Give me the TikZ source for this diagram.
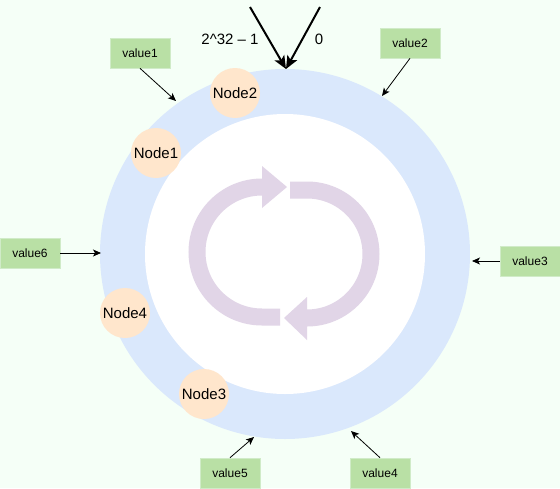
\documentclass[tikz,border=0pt]{standalone}
\usepackage{fontspec}
\setmainfont{Liberation Sans}
\usetikzlibrary{arrows.meta}
\definecolor{bgc}{HTML}{F5FFF7}
\definecolor{ringc}{HTML}{DAE8FC}
\definecolor{nodec}{HTML}{FFE6CC}
\definecolor{valc}{HTML}{B9E0A5}
\definecolor{valb}{HTML}{D0EBC8}
\definecolor{purc}{HTML}{E1D5E7}
\tikzset{
  ringnode/.style={circle, fill=nodec, minimum size=50pt, inner sep=0pt, font=\fontsize{15}{17}\selectfont},
  valbox/.style={rectangle, fill=valc, draw=valb, line width=0.6pt, minimum width=60pt, minimum height=30pt, inner sep=0pt, font=\fontsize{12}{14}\selectfont},
  valarrow/.style={-{Stealth[length=8pt,width=7pt,inset=2pt]}, line width=0.8pt, black},
  toparrow/.style={-{Stealth[length=13pt,width=11pt,inset=3pt]}, line width=2pt, black},
  band/.style={draw=purc, line width=17pt},
  lbl/.style={font=\fontsize{15}{17}\selectfont, inner sep=0pt}
}
\begin{document}
\begin{tikzpicture}[x=1pt,y=-1pt]
\useasboundingbox (0,0) rectangle (560,488);
\fill[bgc] (0,0) rectangle (560,488);
% ring
\fill[ringc] (285,254) circle (185);
\fill[white] (285,254) circle (140);
% cycle arrows
\draw[band] (263,187) -- (262,187) arc[start angle=-90, end angle=-270, radius=65] -- (280,317);
\fill[purc] (262,166) -- (287,187) -- (262,208) -- cycle;
\draw[band] (290,190) -- (307,190) arc[start angle=-90, end angle=90, radius=64];
\fill[purc] (307,297) -- (284,318) -- (307,340) -- cycle;
% ring nodes
\node[ringnode] (n2) at (235,93) {Node2};
\node[ringnode] (n1) at (156,153) {Node1};
\node[ringnode] (n4) at (125,313) {Node4};
\node[ringnode] (n3) at (204,394) {Node3};
% top
\coordinate (top) at (286,69);
\coordinate (ts1) at (250,7);
\coordinate (ts2) at (320,7);
\draw[toparrow] (ts1) -- (top);
\draw[toparrow] (ts2) -- (top);
\node[lbl] (lmax) at (230,39) {2\^{}32 – 1};
\node[lbl] (lzero) at (319,39) {0};
% values
\node[valbox] (v1) at (140,53) {value1};
\node[valbox] (v2) at (410,43) {value2};
\node[valbox] (v3) at (530,261) {value3};
\node[valbox] (v6) at (30,253) {value6};
\node[valbox] (v5) at (230,473) {value5};
\node[valbox] (v4) at (380,473) {value4};
\coordinate (p1) at (176,101);
\coordinate (p2) at (382,96);
\coordinate (p3) at (472,261);
\coordinate (p6) at (101,253);
\coordinate (p5) at (254,437);
\coordinate (p4) at (351,431);
\draw[valarrow] (v1.south) -- (p1);
\draw[valarrow] (v2.south) -- (p2);
\draw[valarrow] (v3.west) -- (p3);
\draw[valarrow] (v6.east) -- (p6);
\draw[valarrow] (v5.north) -- (p5);
\draw[valarrow] (v4.north) -- (p4);
\end{tikzpicture}
\end{document}
